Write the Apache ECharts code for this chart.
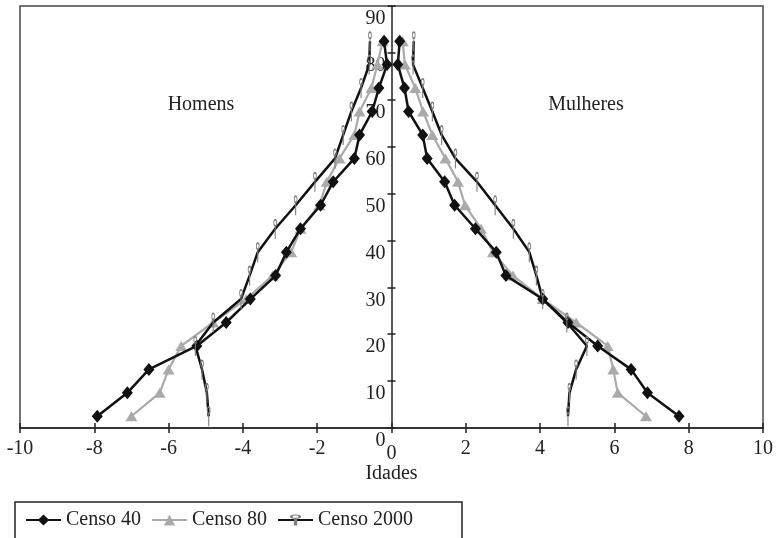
<!DOCTYPE html>
<html>
<head>
<meta charset="utf-8">
<script src="https://cdn.jsdelivr.net/npm/echarts@6/dist/echarts.min.js"></script>
<style>
  html, body { margin: 0; padding: 0; background: #fff; }
  #chart { width: 777px; height: 538px; }
</style>
</head>
<body>
<div id="chart"></div>
<script>
// faixas etarias (ponto medio de cada grupo de 5 anos)
var idades = [2.5, 7.5, 12.5, 17.5, 22.5, 27.5, 32.5, 37.5, 42.5, 47.5, 52.5, 57.5, 62.5, 67.5, 72.5, 77.5, 82.5]

// % da populacao - homens (negativo) e mulheres
var censo40Homens = [-7.92, -7.11, -6.53, -5.24, -4.45, -3.8, -3.12, -2.83, -2.45, -1.91, -1.57, -1.0, -0.86, -0.52, -0.34, -0.12, -0.2]
var censo40Mulheres = [7.74, 6.89, 6.45, 5.55, 4.75, 4.07, 3.08, 2.82, 2.26, 1.70, 1.43, 0.96, 0.84, 0.46, 0.35, 0.17, 0.22]
var censo80Homens = [-7.0, -6.24, -6.0, -5.66, -4.8, -3.91, -3.2, -2.7, -2.45, -1.94, -1.74, -1.4, -1.0, -0.86, -0.54, -0.38, -0.24]
var censo80Mulheres = [6.85, 6.09, 5.97, 5.82, 4.97, 4.07, 3.27, 2.73, 2.41, 1.98, 1.79, 1.45, 1.1, 0.85, 0.64, 0.36, 0.3]
var censo2000Homens = [-4.92, -4.97, -5.1, -5.28, -4.8, -4.05, -3.82, -3.6, -3.13, -2.58, -2.06, -1.52, -1.3, -1.08, -0.82, -0.6, -0.58]
var censo2000Mulheres = [4.75, 4.79, 4.97, 5.26, 4.72, 4.07, 3.9, 3.71, 3.28, 2.79, 2.3, 1.72, 1.35, 1.1, 0.84, 0.58, 0.6]

var nomes = ['Censo 40', 'Censo 80', 'Censo 2000']

var fonte = 'Liberation Serif'
// marcador do censo 2000: circulo vazado em cima de um traco vertical
var marcador2000 = 'path://M5,0 A4,4 0 1 1 5,8 A4,4 0 1 1 5,0 Z M5,1.8 A2.2,2.2 0 1 0 5,6.2 A2.2,2.2 0 1 0 5,1.8 Z M3.8,8 L6.2,8 L6.2,20 L3.8,20 Z'

function pares(valores) {
  return valores.map(function (v, i) { return [v, idades[i]] })
}

function serie(nome, valores, estilo) {
  return {
    name: nome,
    type: 'line',
    data: pares(valores),
    symbol: estilo.symbol,
    symbolSize: estilo.size,
    symbolKeepAspect: true,
    lineStyle: { color: estilo.line, width: estilo.width },
    itemStyle: { color: estilo.mark },
    z: estilo.z,
    animation: false
  }
}

var est40 = { symbol: 'diamond', size: [11, 13], line: '#111', mark: '#111', width: 2.5, z: 3 }
var est80 = { symbol: 'triangle', size: [12, 10], line: '#aaaaaa', mark: '#aaaaaa', width: 2.2, z: 2 }
var est2000 = { symbol: marcador2000, size: [9, 20], line: '#111', mark: '#7c7c7c', width: 2.5, z: 4 }

var corEixo = '#222'
var rotulo = { fontFamily: fonte, fontSize: 20, color: corEixo, hideOverlap: false }
var tickY = { length: 4, lineStyle: { color: corEixo, width: 1.5 } }

var chart = echarts.init(document.getElementById('chart'))

chart.setOption({
  backgroundColor: '#fff',
  textStyle: { fontFamily: fonte },
  grid: {
    left: 20,
    top: 6,
    width: 743,
    height: 422,
    show: true,
    borderColor: '#444',
    borderWidth: 1.5
  },
  legend: {
    data: nomes,
    left: 15,
    top: 502,
    orient: 'horizontal',
    itemWidth: 35,
    itemHeight: 14,
    itemGap: 10,
    padding: [8, 49, 20, 10],
    borderColor: corEixo,
    borderWidth: 1.5,
    textStyle: { fontFamily: fonte, fontSize: 20, color: corEixo }
  },
  xAxis: [
    {
      type: 'value',
      min: -10,
      max: 10,
      interval: 2,
      name: 'Idades',
      nameLocation: 'middle',
      nameGap: 35,
      nameTextStyle: { fontFamily: fonte, fontSize: 20, color: corEixo },
      axisLine: { onZero: false, lineStyle: { color: corEixo, width: 1.5 } },
      axisTick: { length: 5, lineStyle: { color: corEixo, width: 1.5 } },
      axisLabel: Object.assign({ margin: 11, formatter: function (v) { return v === 0 ? '' : v } }, rotulo),
      splitLine: { show: false }
    },
    {
      // tracos para dentro (cruzando o eixo) e o rotulo 0
      type: 'value',
      position: 'bottom',
      min: -10,
      max: 10,
      interval: 2,
      axisLine: { show: false, onZero: false },
      axisTick: { inside: true, length: 5, lineStyle: { color: corEixo, width: 1.5 } },
      axisLabel: Object.assign({ margin: 16, formatter: function (v) { return v === 0 ? '0' : '' } }, rotulo),
      splitLine: { show: false }
    }
  ],
  yAxis: [
    {
      // eixo das idades no meio (x = 0)
      type: 'value',
      position: 'left',
      offset: -371.5,
      min: 0,
      max: 90,
      interval: 10,
      axisLine: { onZero: false, lineStyle: { color: corEixo, width: 1.5 } },
      axisTick: tickY,
      axisLabel: Object.assign({ margin: 6, verticalAlign: 'top', padding: [3, 0, 0, 0] }, rotulo),
      splitLine: { show: false }
    },
    {
      type: 'value',
      position: 'right',
      offset: -371.5,
      min: 0,
      max: 90,
      interval: 10,
      axisLine: { show: false, onZero: false },
      axisTick: tickY,
      axisLabel: { show: false },
      splitLine: { show: false }
    }
  ],
  graphic: [
    {
      type: 'text', x: 201, y: 105,
      style: { text: 'Homens', fill: corEixo, font: '20px "Liberation Serif"', textAlign: 'center', textVerticalAlign: 'middle' }
    },
    {
      type: 'text', x: 586, y: 105,
      style: { text: 'Mulheres', fill: corEixo, font: '20px "Liberation Serif"', textAlign: 'center', textVerticalAlign: 'middle' }
    }
  ],
  series: [
    serie('Censo 40', censo40Homens, est40),
    serie('Censo 40', censo40Mulheres, est40),
    serie('Censo 80', censo80Homens, est80),
    serie('Censo 80', censo80Mulheres, est80),
    serie('Censo 2000', censo2000Homens, est2000),
    serie('Censo 2000', censo2000Mulheres, est2000)
  ]
})
</script>
</body>
</html>
